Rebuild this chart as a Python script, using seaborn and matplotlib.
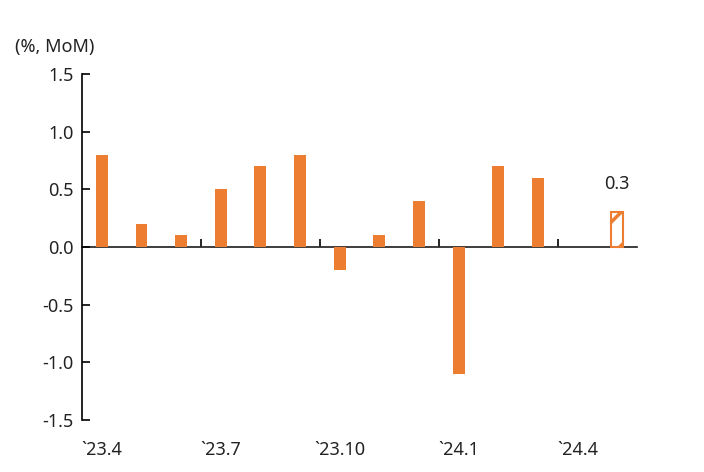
import matplotlib
matplotlib.use("Agg")
import matplotlib.pyplot as plt
import seaborn as sns
import pandas as pd
import numpy as np

months = ["23.4", "23.5", "23.6", "23.7", "23.8", "23.9", "23.10", "23.11",
          "23.12", "24.1", "24.2", "24.3", "24.4", "24.5"]
values = [0.8, 0.2, 0.1, 0.5, 0.7, 0.8, -0.2, 0.1, 0.4, -1.1, 0.7, 0.6, np.nan, 0.3]
tick_labels = ["`23.4", "`23.7", "`23.10", "`24.1", "`24.4"]
label_value = "0.3"

orange = "#ED7D31"

sns.set_theme(style="white")
plt.rcParams["font.family"] = ["Noto Sans", "DejaVu Sans"]
plt.rcParams["hatch.linewidth"] = 2.5

df = pd.DataFrame({"month": months, "value": values})

fig = plt.figure(figsize=(7.04, 4.72), dpi=100)
ax = fig.add_axes([82 / 704, 1 - 420 / 472, (637 - 82) / 704, (420 - 74) / 472])

sns.barplot(data=df, x="month", y="value", color=orange, width=0.3,
            saturation=1, linewidth=0, ax=ax)

# last bar as an outlined, hatched estimate
last = [p for p in ax.patches if np.isclose(p.get_x() + p.get_width() / 2, len(values) - 1)][0]
last.set_facecolor("white")
last.set_edgecolor(orange)
last.set_linewidth(1.5)
last.set_hatch("/")

ax.text(len(values) - 1, values[-1] + 0.17, label_value, ha="center",
        va="bottom", fontsize=13, color="#222222")

ax.set_xlim(-0.5, len(values) - 0.5)
ax.set_ylim(-1.5, 1.5)
ax.set_yticks(np.arange(-1.5, 1.51, 0.5))
ax.set_yticklabels([f"{v:.1f}" for v in np.arange(-1.5, 1.51, 0.5)], fontsize=13)
ax.tick_params(axis="y", direction="in", length=6, width=1.2, color="black",
               left=True, pad=6, labelcolor="#222222")

ax.set_xticks(range(0, len(values), 3))
ax.set_xticklabels(tick_labels, fontsize=13, color="#222222")
ax.tick_params(axis="x", length=0, pad=15)

for s in ["top", "right", "bottom"]:
    ax.spines[s].set_visible(False)
ax.spines["left"].set_color("black")
ax.spines["left"].set_linewidth(1.2)

# zero line with upward ticks between quarters
sec = ax.secondary_xaxis(0.5)
sec.set_xticks([2.5, 5.5, 8.5, 11.5])
sec.set_xticklabels([])
sec.xaxis.set_ticks_position("bottom")
sec.tick_params(axis="x", direction="in", length=6, width=1.2, color="black",
                bottom=True, top=False)
sec.spines["bottom"].set_color("black")
sec.spines["bottom"].set_linewidth(1.2)

ax.set_xlabel("")
ax.set_ylabel("")
fig.text(15 / 704, 1 - 47 / 472, "(%, MoM)", fontsize=13, va="center",
         ha="left", color="#222222")

fig.savefig("out.png", dpi=100)
